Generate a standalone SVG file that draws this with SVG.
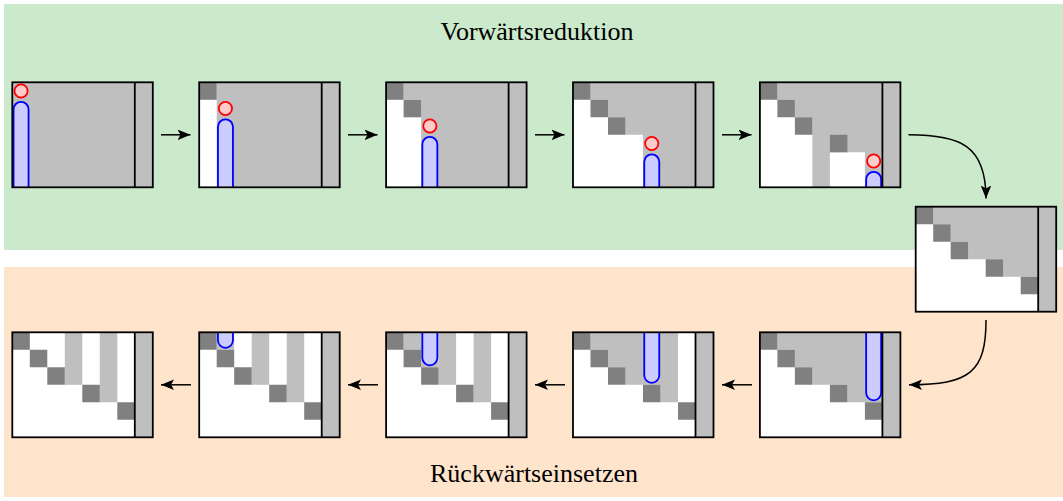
<svg xmlns="http://www.w3.org/2000/svg" width="1063" height="501" viewBox="0 0 1063 501">
<style>
.bg{fill:#fff}
.g{fill:#bfbfbf}
.d{fill:#808080}
.frame{fill:none;stroke:#000;stroke-width:1.8}
.div{stroke:#000;stroke-width:1.8}
.cap{fill:#ccccff;stroke:#0000ff;stroke-width:1.8}
.piv{fill:#ffcccc;stroke:#ff0000;stroke-width:1.8}
.conn{fill:none;stroke:#000;stroke-width:1.5}
.lbl{font-family:"Liberation Serif","Times New Roman",serif;font-size:26px;fill:#000;text-anchor:middle}
</style>
<defs>
<marker id="ah" markerUnits="userSpaceOnUse" markerWidth="15" markerHeight="13" viewBox="-13 -6.5 15 13" refX="0" refY="0" orient="auto">
<path d="M-13,-5.3 L0,0 L-13,5.3 L-10,0 z" fill="#000"/>
</marker>
<g id="frame">
<rect class="g" x="122.5" y="0" width="18" height="105"/>
<rect class="frame" x="0" y="0" width="140.5" height="105"/>
<line class="div" x1="122.5" y1="0" x2="122.5" y2="105"/>
</g>
<path id="diag3" class="d" d="M0,0h17.5v17.5h-17.5z M17.5,17.5h17.5v17.5h-17.5z M35,35h17.5v17.5h-17.5z"/>
<path id="diag5" class="d" d="M0,0h17.5v17.5h-17.5z M17.5,17.5h17.5v17.5h-17.5z M35,35h17.5v17.5h-17.5z M70,52.5h17.5v17.5h-17.5z M105,70h17.5v17.5h-17.5z"/>
</defs>

<rect x="4" y="4" width="1059" height="246" fill="#cbe9cb"/>
<rect x="4" y="267" width="1059" height="230" fill="#ffe4cc"/>
<text class="lbl" x="537" y="40">Vorwärtsreduktion</text>
<text class="lbl" x="534" y="482">Rückwärtseinsetzen</text>

<g id="connectors">
<line class="conn" x1="161" y1="134.8" x2="190.5" y2="134.8" marker-end="url(#ah)"/>
<line class="conn" x1="348" y1="134.8" x2="377.5" y2="134.8" marker-end="url(#ah)"/>
<line class="conn" x1="535" y1="134.8" x2="564.5" y2="134.8" marker-end="url(#ah)"/>
<line class="conn" x1="722" y1="134.8" x2="751.5" y2="134.8" marker-end="url(#ah)"/>
<path class="conn" d="M908.5,134.8 C960,134.8 986,145 986,198.5" marker-end="url(#ah)"/>
<path class="conn" d="M986,320 C986,372 970,384.8 909,384.8" marker-end="url(#ah)"/>
<line class="conn" x1="752" y1="384.8" x2="722" y2="384.8" marker-end="url(#ah)"/>
<line class="conn" x1="565" y1="384.8" x2="535" y2="384.8" marker-end="url(#ah)"/>
<line class="conn" x1="378" y1="384.8" x2="348" y2="384.8" marker-end="url(#ah)"/>
<line class="conn" x1="191" y1="384.8" x2="161" y2="384.8" marker-end="url(#ah)"/>
</g>

<g id="f1" transform="translate(12.3,82.3)">
<rect class="bg" width="140.5" height="105"/>
<rect class="g" width="122.5" height="105"/>
<path class="cap" d="M1.25,105 V27 A7.5,7.5 0 0 1 16.25,27 V105"/>
<circle class="piv" cx="8.75" cy="8.75" r="6.6"/>
<use href="#frame"/>
</g>

<g id="f2" transform="translate(199.2,82.3)">
<rect class="bg" width="140.5" height="105"/>
<rect class="g" x="17.5" width="105" height="105"/>
<rect class="d" width="17.5" height="17.5"/>
<path class="cap" d="M18.75,105 V44.5 A7.5,7.5 0 0 1 33.75,44.5 V105"/>
<circle class="piv" cx="26.25" cy="26.25" r="6.6"/>
<use href="#frame"/>
</g>

<g id="f3" transform="translate(386.1,82.3)">
<rect class="bg" width="140.5" height="105"/>
<path class="g" d="M17.5,0 H122.5 V105 H35 V17.5 H17.5 Z"/>
<rect class="d" width="17.5" height="17.5"/>
<rect class="d" x="17.5" y="17.5" width="17.5" height="17.5"/>
<path class="cap" d="M36.25,105 V62 A7.5,7.5 0 0 1 51.25,62 V105"/>
<circle class="piv" cx="43.75" cy="43.75" r="6.6"/>
<use href="#frame"/>
</g>

<g id="f4" transform="translate(573,82.3)">
<rect class="bg" width="140.5" height="105"/>
<path class="g" d="M17.5,0 H122.5 V105 H70 V52.5 H52.5 V35 H35 V17.5 H17.5 Z"/>
<use href="#diag3"/>
<path class="cap" d="M71.25,105 V79.5 A7.5,7.5 0 0 1 86.25,79.5 V105"/>
<circle class="piv" cx="78.75" cy="61.25" r="6.6"/>
<use href="#frame"/>
</g>

<g id="f5" transform="translate(759.9,82.3)">
<rect class="bg" width="140.5" height="105"/>
<path class="g" d="M17.5,0 H122.5 V105 H105 V70 H70 V105 H52.5 V35 H35 V17.5 H17.5 Z"/>
<use href="#diag3"/>
<rect class="d" x="70" y="52.5" width="17.5" height="17.5"/>
<path class="cap" d="M106.25,105 V97 A7.5,7.5 0 0 1 121.25,97 V105"/>
<circle class="piv" cx="113.75" cy="78.75" r="6.6"/>
<use href="#frame"/>
</g>

<g id="f6" transform="translate(915.7,206.7)">
<rect class="bg" width="140.5" height="105"/>
<path class="g" d="M17.5,0 H122.5 V70 H87.5 V52.5 H52.5 V35 H35 V17.5 H17.5 Z"/>
<use href="#diag5"/>
<use href="#frame"/>
</g>

<g id="b5" transform="translate(759.9,332.3)">
<rect class="bg" width="140.5" height="105"/>
<path class="g" d="M17.5,0 H122.5 V70 H87.5 V52.5 H52.5 V35 H35 V17.5 H17.5 Z"/>
<use href="#diag5"/>
<path class="cap" d="M106.25,0 V60.5 A7.5,7.5 0 0 0 121.25,60.5 V0"/>
<use href="#frame"/>
</g>

<g id="b4" transform="translate(573,332.3)">
<rect class="bg" width="140.5" height="105"/>
<path class="g" d="M17.5,0 H105 V70 H87.5 V52.5 H52.5 V35 H35 V17.5 H17.5 Z"/>
<use href="#diag5"/>
<path class="cap" d="M71.25,0 V43 A7.5,7.5 0 0 0 86.25,43 V0"/>
<use href="#frame"/>
</g>

<g id="b3" transform="translate(386.1,332.3)">
<rect class="bg" width="140.5" height="105"/>
<rect class="g" x="17.5" y="0" width="17.5" height="17.5"/>
<rect class="g" x="35" y="0" width="17.5" height="35"/>
<rect class="g" x="52.5" y="0" width="17.5" height="52.5"/>
<rect class="g" x="87.5" y="0" width="17.5" height="70"/>
<use href="#diag5"/>
<path class="cap" d="M36.25,0 V25.5 A7.5,7.5 0 0 0 51.25,25.5 V0"/>
<use href="#frame"/>
</g>

<g id="b2" transform="translate(199.2,332.3)">
<rect class="bg" width="140.5" height="105"/>
<rect class="g" x="17.5" y="0" width="17.5" height="17.5"/>
<rect class="g" x="52.5" y="0" width="17.5" height="52.5"/>
<rect class="g" x="87.5" y="0" width="17.5" height="70"/>
<use href="#diag5"/>
<path class="cap" d="M18.75,0 V8 A7.5,7.5 0 0 0 33.75,8 V0"/>
<use href="#frame"/>
</g>

<g id="b1" transform="translate(12.3,332.3)">
<rect class="bg" width="140.5" height="105"/>
<rect class="g" x="52.5" y="0" width="17.5" height="52.5"/>
<rect class="g" x="87.5" y="0" width="17.5" height="70"/>
<use href="#diag5"/>
<use href="#frame"/>
</g>
</svg>
